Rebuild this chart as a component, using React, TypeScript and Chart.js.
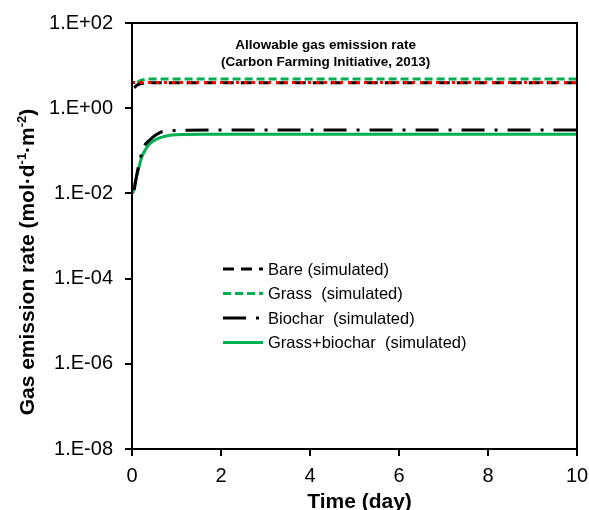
import React, { useEffect, useRef } from "react";
import { Chart, registerables } from "chart.js";

Chart.register(...registerables);

// ---------- data ----------
const yTickValues = [1e-8, 1e-6, 1e-4, 1e-2, 1, 100];
const yTickLabels = ["1.E-08", "1.E-06", "1.E-04", "1.E-02", "1.E+00", "1.E+02"];

const timeAllowable = [0, 10];
const allowable = [4.0, 4.0];

const timeBare = [0.05, 0.1, 0.18, 0.3, 0.5, 10];
const bare = [3.0, 3.4, 3.75, 3.9, 3.95, 3.95];

const timeGrass = [0.12, 0.2, 0.3, 0.5, 10];
const grass = [4.0, 4.5, 4.75, 4.85, 4.85];

const timeBiochar = [0.05, 0.1, 0.18, 0.25, 0.4, 0.55, 0.67, 0.85, 1.2, 2, 10];
const biochar = [0.012, 0.025, 0.061, 0.115, 0.18, 0.24, 0.28, 0.295, 0.305, 0.308, 0.308];

const timeGrassBiochar = [0.02, 0.08, 0.14, 0.22, 0.3, 0.37, 0.48, 0.59, 0.75, 0.89, 1.2, 1.6, 2.5, 10];
const grassBiochar = [0.01, 0.02, 0.035, 0.072, 0.105, 0.137, 0.17, 0.196, 0.22, 0.235, 0.242, 0.244, 0.244, 0.244];

const legendLabels = [
  "Bare (simulated)",
  "Grass  (simulated)",
  "Biochar  (simulated)",
  "Grass+biochar  (simulated)",
];
const annotationLines = ["Allowable gas emission rate", "(Carbon Farming Initiative, 2013)"];
const xTitle = "Time (day)";

const GREEN = "rgb(0,176,80)";
const FONT = '"Liberation Sans", Arial, sans-serif';

const pts = (xs: number[], ys: number[]) => xs.map((x, i) => ({ x, y: ys[i] }));

const overlayPlugin = {
  id: "overlay",
  afterDraw(chart: any) {
    const ctx = chart.ctx as CanvasRenderingContext2D;
    const a = chart.chartArea;
    ctx.save();
    // box
    ctx.strokeStyle = "#000";
    ctx.lineWidth = 2;
    ctx.setLineDash([]);
    ctx.strokeRect(a.left, a.top, a.right - a.left, a.bottom - a.top);

    // annotation
    ctx.fillStyle = "#000";
    ctx.font = `bold 13.5px ${FONT}`;
    ctx.textAlign = "center";
    ctx.textBaseline = "middle";
    const cx = chart.scales.x.getPixelForValue(4.35);
    ctx.fillText(annotationLines[0], cx, 45);
    ctx.fillText(annotationLines[1], cx, 62);

    // legend
    const ds = chart.data.datasets.filter((d: any) => d.inLegend);
    const ly0 = 269;
    const lstep = 24.5;
    ds.forEach((d: any, i: number) => {
      const y = ly0 + i * lstep;
      ctx.beginPath();
      ctx.strokeStyle = d.borderColor;
      ctx.lineWidth = 3;
      ctx.setLineDash(d.borderDash || []);
      ctx.moveTo(223, y);
      ctx.lineTo(263, y);
      ctx.stroke();
      ctx.setLineDash([]);
      ctx.fillStyle = "#000";
      ctx.font = `16.5px ${FONT}`;
      ctx.textAlign = "left";
      ctx.textBaseline = "middle";
      ctx.fillText(legendLabels[i], 268, y + 1);
    });

    // x title
    ctx.font = `bold 21px ${FONT}`;
    ctx.textAlign = "center";
    ctx.textBaseline = "middle";
    ctx.fillStyle = "#000";
    ctx.fillText(xTitle, (a.left + a.right) / 2 + 5, 502);

    // y title with superscripts
    const parts: [string, boolean][] = [
      ["Gas emission rate (mol·d", false],
      ["-1", true],
      ["·m", false],
      ["-2", true],
      [")", false],
    ];
    const big = `bold 21px ${FONT}`;
    const small = `bold 13px ${FONT}`;
    let total = 0;
    parts.forEach(([t, s]) => {
      ctx.font = s ? small : big;
      total += ctx.measureText(t).width;
    });
    ctx.translate(28, 262);
    ctx.rotate(-Math.PI / 2);
    let x = -total / 2;
    ctx.textAlign = "left";
    ctx.textBaseline = "middle";
    parts.forEach(([t, s]) => {
      ctx.font = s ? small : big;
      ctx.fillText(t, x, s ? -6 : 0);
      x += ctx.measureText(t).width;
    });
    ctx.restore();
  },
};

export default function App() {
  const ref = useRef<HTMLCanvasElement>(null);
  useEffect(() => {
    if (!ref.current) return;
    const chart = new Chart(ref.current, {
      type: "line",
      data: {
        datasets: [
          {
            label: "Allowable",
            data: pts(timeAllowable, allowable),
            borderColor: "#ff0000",
            borderWidth: 3,
            borderDash: [3, 5],
            pointRadius: 0,
            order: 0,
            inLegend: false,
          } as any,
          {
            label: legendLabels[0],
            data: pts(timeBare, bare),
            borderColor: "#000",
            borderWidth: 3,
            borderDash: [11, 7],
            pointRadius: 0,
            cubicInterpolationMode: "monotone",
            order: 1,
            inLegend: true,
          },
          {
            label: legendLabels[1],
            data: pts(timeGrass, grass),
            borderColor: GREEN,
            borderWidth: 3,
            borderDash: [8, 4],
            pointRadius: 0,
            cubicInterpolationMode: "monotone",
            order: 2,
            inLegend: true,
          },
          {
            label: legendLabels[2],
            data: pts(timeBiochar, biochar),
            borderColor: "#000",
            borderWidth: 3,
            borderDash: [23, 10, 3, 10],
            pointRadius: 0,
            cubicInterpolationMode: "monotone",
            order: 3,
            inLegend: true,
          },
          {
            label: legendLabels[3],
            data: pts(timeGrassBiochar, grassBiochar),
            borderColor: GREEN,
            borderWidth: 3,
            pointRadius: 0,
            cubicInterpolationMode: "monotone",
            order: 4,
            inLegend: true,
          },
        ] as any,
      },
      options: {
        responsive: false,
        animation: false,
        layout: { padding: { top: 23, right: 12, left: 0, bottom: 0 } },
        plugins: { legend: { display: false }, tooltip: { enabled: false } },
        scales: {
          x: {
            type: "linear",
            min: 0,
            max: 10,
            ticks: { stepSize: 2, color: "#000", font: { size: 20, family: FONT }, padding: 8, maxRotation: 0 },
            grid: { drawOnChartArea: false, drawTicks: true, tickLength: 7, color: "#000", lineWidth: 2 },
            border: { display: true, color: "#000", width: 2 },
            afterFit: (s: any) => {
              s.height = 61;
              s.paddingLeft = 0;
              s.paddingRight = 0;
            },
          },
          y: {
            type: "logarithmic",
            min: 1e-8,
            max: 100,
            afterBuildTicks: (axis: any) => {
              axis.ticks = yTickValues.map((v) => ({ value: v }));
            },
            ticks: {
              color: "#000",
              font: { size: 20, family: FONT },
              padding: 12,
              callback: (v: any) => {
                const i = yTickValues.findIndex((t) => Math.abs(Math.log10(t) - Math.log10(Number(v))) < 1e-6);
                return i >= 0 ? yTickLabels[i] : "";
              },
            },
            grid: { drawOnChartArea: false, drawTicks: true, tickLength: 7, color: "#000", lineWidth: 2 },
            border: { display: true, color: "#000", width: 2 },
            afterFit: (s: any) => {
              s.width = 132;
              s.paddingTop = 0;
              s.paddingBottom = 0;
            },
          },
        },
      },
      plugins: [overlayPlugin],
    });
    return () => chart.destroy();
  }, []);
  return (
    <div style={{ position: "absolute", left: 0, top: 0, width: 589, height: 510, background: "#fff" }}>
      <canvas ref={ref} width={589} height={510} />
    </div>
  );
}
